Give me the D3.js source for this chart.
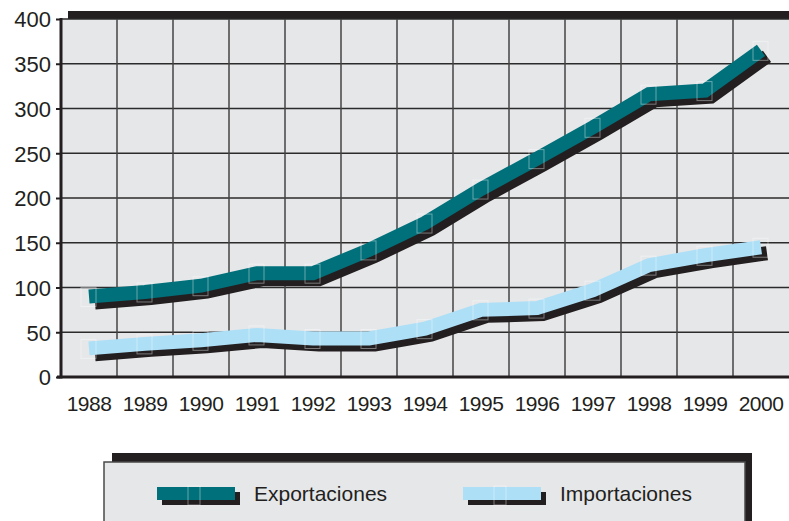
<!DOCTYPE html>
<html><head><meta charset="utf-8">
<script src="https://cdn.jsdelivr.net/npm/d3@7"></script>
<style>html,body{margin:0;padding:0;background:#fff;}svg{display:block;}text{font-family:"Liberation Sans",Arial,sans-serif;fill:#231f20;}</style>
</head><body>
<script>
const years = ["1988","1989","1990","1991","1992","1993","1994","1995","1996","1997","1998","1999","2000"];
const exportaciones = [90, 95, 102, 116, 116, 142, 172, 210, 244, 279, 316, 320, 365];
const importaciones = [32, 37, 41, 47, 43, 43, 54, 75, 77, 97, 125, 136, 145];
const yTicks = [0, 50, 100, 150, 200, 250, 300, 350, 400];
const seriesNames = ["Exportaciones", "Importaciones"];
const seriesColors = ["#00707a", "#addff7"];

const W = 789, H = 521;
const svg = d3.select("body").append("svg").attr("width", W).attr("height", H);

const L = 61, T = 19, B = 377, R = 789;
const x = d3.scaleBand().domain(years).range([L, R]).paddingInner(0).paddingOuter(0);
const y = d3.scaleLinear().domain([0, 400]).range([B, T]);
const shadow = "#231f20";

// plot box shadow and background
svg.append("rect").attr("x", L + 7).attr("y", T - 8).attr("width", R - L + 20).attr("height", B - T).attr("fill", shadow);
svg.append("rect").attr("x", L).attr("y", T).attr("width", R - L + 20).attr("height", B - T).attr("fill", "#e6e7e9");

// grid
const g = svg.append("g");
g.selectAll("line.h").data(yTicks.slice(1)).join("line")
  .attr("x1", L).attr("x2", R + 10).attr("y1", d => y(d)).attr("y2", d => y(d))
  .attr("stroke", "#2b2b2b").attr("stroke-width", 1.5);
g.selectAll("line.v").data(years.slice(1)).join("line")
  .attr("x1", d => x(d)).attr("x2", d => x(d)).attr("y1", T).attr("y2", B)
  .attr("stroke", "#444").attr("stroke-width", 1.5);

// series
const line = d3.line().x((d, i) => x(years[i]) + x.bandwidth() / 2).y(d => y(d));
const data = [exportaciones, importaciones];
const sg = svg.append("g");
data.forEach((vals, k) => {
  sg.append("path").attr("d", line(vals)).attr("transform", "translate(6,6)")
    .attr("fill", "none").attr("stroke", shadow).attr("stroke-width", 14).attr("stroke-linejoin", "miter");
  sg.append("path").attr("d", line(vals))
    .attr("fill", "none").attr("stroke", seriesColors[k]).attr("stroke-width", 14).attr("stroke-linejoin", "miter");
});
data.forEach((vals, k) => {
  sg.selectAll(null).data(vals).join("rect")
    .attr("x", (d, i) => x(years[i]) + x.bandwidth() / 2 - 8)
    .attr("y", d => y(d) - 9)
    .attr("width", 15).attr("height", 19)
    .attr("fill", "none").attr("stroke", "rgba(255,255,255,0.4)").attr("stroke-width", 1);
});

// axes
svg.append("line").attr("x1", L).attr("x2", L).attr("y1", T - 1).attr("y2", B + 1.5).attr("stroke", shadow).attr("stroke-width", 3);
svg.append("line").attr("x1", L - 4).attr("x2", R + 10).attr("y1", B).attr("y2", B).attr("stroke", shadow).attr("stroke-width", 3);
const yAxis = d3.axisLeft(y).tickValues(yTicks).tickSize(4).tickPadding(5).tickFormat(d3.format("d"));
const ya = svg.append("g").attr("transform", `translate(${L - 1},0)`).call(yAxis);
ya.select(".domain").remove();
ya.selectAll(".tick line").attr("stroke", shadow).attr("stroke-width", 2);
ya.selectAll(".tick text").attr("font-size", 22).attr("fill", "#231f20").attr("dy", "0.36em")
  .attr("font-family", "'Liberation Sans', Arial, sans-serif");

const xAxis = d3.axisBottom(x).tickSize(0).tickPadding(19);
const xa = svg.append("g").attr("transform", `translate(0,${B})`).call(xAxis);
xa.select(".domain").remove();
xa.selectAll(".tick text").attr("font-size", 21).attr("letter-spacing", "-0.5px").attr("fill", "#231f20")
  .attr("font-family", "'Liberation Sans', Arial, sans-serif");

// legend
const lg = svg.append("g");
lg.append("rect").attr("x", 112).attr("y", 453).attr("width", 640).attr("height", 80).attr("fill", shadow);
lg.append("rect").attr("x", 104).attr("y", 462).attr("width", 641).attr("height", 70)
  .attr("fill", "#e6e7e9").attr("stroke", "#4a4a4a").attr("stroke-width", 1.5);
const legX = [157, 463];
seriesNames.forEach((name, k) => {
  const sx = legX[k], sy = 487;
  lg.append("rect").attr("x", sx + 5).attr("y", sy + 5).attr("width", 78).attr("height", 13).attr("fill", shadow);
  lg.append("rect").attr("x", sx).attr("y", sy).attr("width", 78).attr("height", 13).attr("fill", seriesColors[k]);
  lg.append("rect").attr("x", sx + 31).attr("y", sy - 1).attr("width", 12).attr("height", 19)
    .attr("fill", "none").attr("stroke", "rgba(255,255,255,0.4)").attr("stroke-width", 1);
  lg.append("text").attr("x", sx + 97).attr("y", 501).attr("font-size", 21).text(name);
});
</script>
</body></html>
